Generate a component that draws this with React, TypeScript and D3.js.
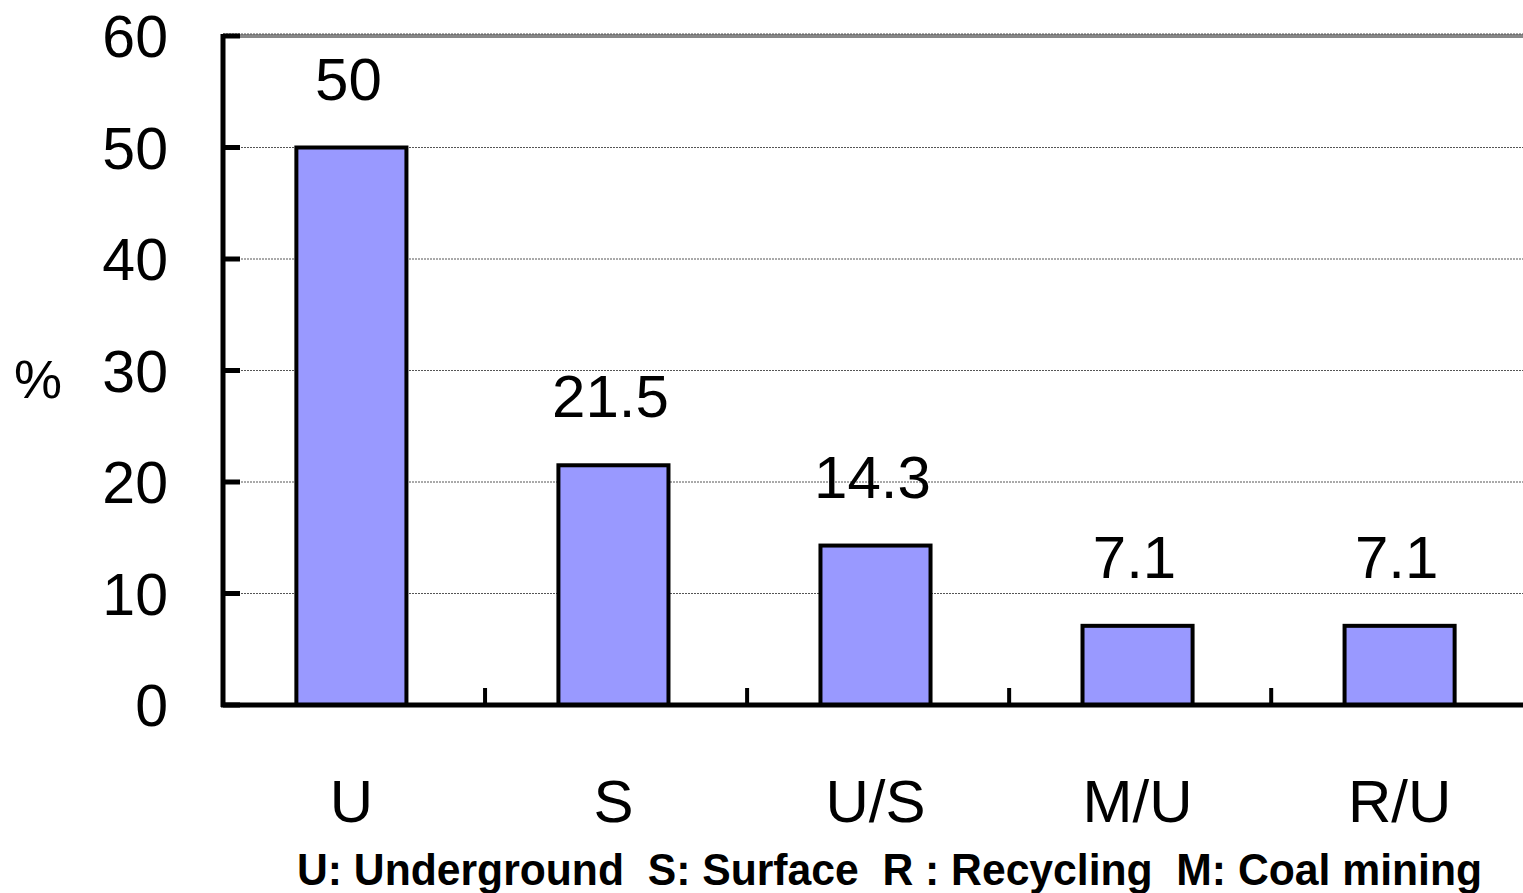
import React from "react";
import * as d3 from "d3";

const categories = ["U", "S", "U/S", "M/U", "R/U"];
const values = [50, 21.5, 14.3, 7.1, 7.1];
const valueLabels = ["50", "21.5", "14.3", "7.1", "7.1"];
const yTicks = [0, 10, 20, 30, 40, 50, 60];
const legendText = "U: Underground  S: Surface  R : Recycling  M: Coal mining";

const W = 1523;
const H = 893;
const left = 223;
const right = 1528;
const top = 36;
const bottom = 705;
const font = "Liberation Sans, Arial, sans-serif";

export default function App() {
  const x = d3
    .scaleBand<string>()
    .domain(categories)
    .range([left, right])
    .paddingInner(0.58)
    .paddingOuter(0.28);
  const y = d3.scaleLinear().domain([0, 60]).range([bottom, top]);
  const step = x.step();

  return (
    <div style={{ position: "absolute", left: 0, top: 0 }}>
      <svg width={W} height={H} style={{ display: "block", background: "#fff" }}>
        {/* gridlines */}
        {yTicks
          .filter((t) => t > 0 && t < 60)
          .map((t) => (
            <line
              key={t}
              x1={left}
              x2={W}
              y1={y(t)}
              y2={y(t)}
              stroke="#555"
              strokeWidth={1}
              strokeDasharray="2,1"
            />
          ))}
        {/* top border of plot area */}
        <line x1={left} x2={W} y1={y(60)} y2={y(60)} stroke="#888" strokeWidth={4} />
        <line x1={left} x2={W} y1={y(60) - 2} y2={y(60) - 2} stroke="#555" strokeWidth={1} strokeDasharray="2,1" />

        {/* bars */}
        {categories.map((c, i) => (
          <rect
            key={c}
            x={x(c)!}
            y={y(values[i])}
            width={x.bandwidth()}
            height={bottom - y(values[i])}
            fill="#9999ff"
            stroke="#000"
            strokeWidth={4}
          />
        ))}

        {/* value labels */}
        {categories.map((c, i) => (
          <text
            key={c}
            x={x(c)! + x.bandwidth() / 2 - 3}
            y={y(values[i]) - 48}
            textAnchor="middle"
            fontFamily={font}
            fontSize={60}
            fill="#000"
          >
            {valueLabels[i]}
          </text>
        ))}

        {/* y axis */}
        <line x1={left} x2={left} y1={top - 2} y2={bottom + 2} stroke="#000" strokeWidth={5} />
        {yTicks.map((t) => (
          <g key={t}>
            <line x1={left} x2={left + 17} y1={y(t)} y2={y(t)} stroke="#000" strokeWidth={5} />
            <text
              x={168}
              y={y(t) + 21}
              textAnchor="end"
              fontFamily={font}
              fontSize={59}
              fill="#000"
            >
              {t}
            </text>
          </g>
        ))}
        <text x={38} y={398} textAnchor="middle" fontFamily={font} fontSize={54} fill="#000">
          %
        </text>

        {/* x axis */}
        <line x1={left - 2} x2={W} y1={bottom} y2={bottom} stroke="#000" strokeWidth={5} />
        {d3.range(1, categories.length).map((i) => (
          <line
            key={i}
            x1={left + i * step}
            x2={left + i * step}
            y1={bottom}
            y2={bottom - 17}
            stroke="#000"
            strokeWidth={4}
          />
        ))}
        {categories.map((c) => (
          <text
            key={c}
            x={x(c)! + x.bandwidth() / 2}
            y={822}
            textAnchor="middle"
            fontFamily={font}
            fontSize={60}
            fill="#000"
          >
            {c}
          </text>
        ))}

        {/* abbreviation key */}
        <text
          x={297}
          y={885}
          fontFamily={font}
          fontWeight="bold"
          fontSize={44}
          fill="#000"
          textLength={1185}
          lengthAdjust="spacingAndGlyphs"
          style={{ whiteSpace: "pre" }}
        >
          {legendText}
        </text>
      </svg>
    </div>
  );
}
